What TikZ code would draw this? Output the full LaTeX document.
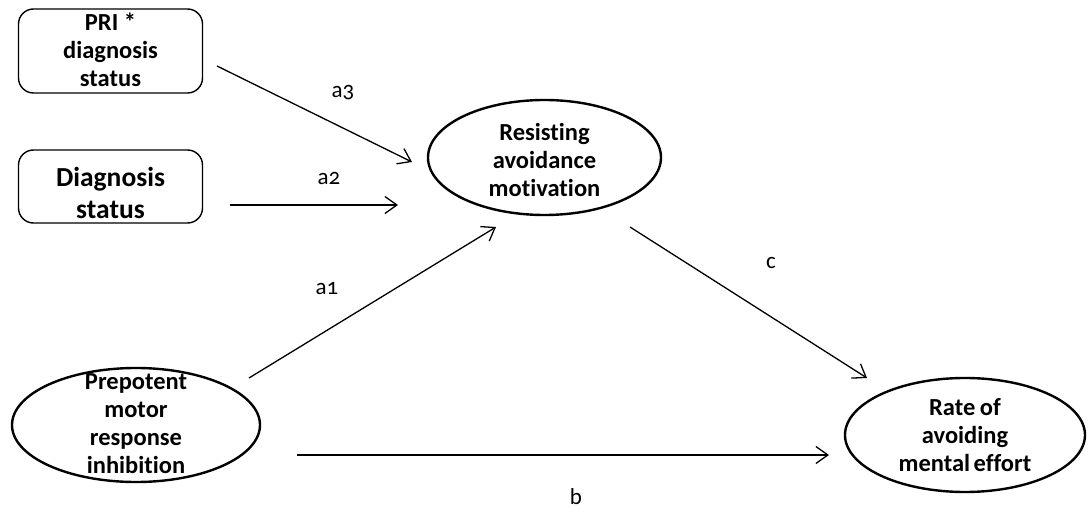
\documentclass[tikz,border=0pt]{standalone}
\usepackage{fontspec}
\setmainfont[Ligatures={NoCommon}]{Carlito}
\newfontfamily\lblfont[Numbers=OldStyle]{Carlito}
\usetikzlibrary{shapes.geometric,arrows.meta}
\begin{document}
\begin{tikzpicture}[x=1pt,y=-1pt,
  boxnode/.style={draw,line width=1.4pt,rounded corners=15pt,minimum width=184pt,inner sep=0pt},
  ellnode/.style={draw,ellipse,line width=2.4pt,inner sep=0pt},
  txt/.style={align=center,font=\fontsize{24.5}{28}\selectfont\bfseries,inner sep=0pt},
  arr/.style={line width=1.3pt,-{Straight Barb[length=12pt,width=17pt,line width=1.3pt]}},
  lbl/.style={font=\lblfont\fontsize{23}{26}\selectfont,inner sep=0pt}]
\useasboundingbox (0,0) rectangle (1088,513);
\node[boxnode,minimum height=84pt] (pri) at (110.5,51) {};
\node[txt] (pritxt) at (110.5,50) {PRI *\\diagnosis\\status};
\node[boxnode,minimum height=73pt] (dia) at (110.5,186.5) {};
\node[txt,font=\fontsize{27.5}{32}\selectfont\bfseries] (diatxt) at (110.5,193) {Diagnosis\\status};
\node[ellnode,minimum width=233pt,minimum height=115pt] (res) at (544.5,157.5) {};
\node[txt] (restxt) at (544.5,160) {Resisting\\avoidance\\motivation};
\node[ellnode,minimum width=248pt,minimum height=114pt] (pmr) at (136,425) {};
\node[txt] (pmrtxt) at (136,424) {Prepotent\\motor\\response\\inhibition};
\node[ellnode,minimum width=240pt,minimum height=114pt] (rate) at (965,435) {};
\node[txt] (ratetxt) at (965,435) {Rate\kern-1pt\ of\\avoiding\\mental\kern-2pt\ effort};
\coordinate (a3s) at (217,66);
\coordinate (a3e) at (412,162);
\coordinate (a2s) at (230,205);
\coordinate (a2e) at (398,205);
\coordinate (a1s) at (249,378);
\coordinate (a1e) at (496,227);
\coordinate (cs) at (630,227);
\coordinate (ce) at (867,378);
\coordinate (bs) at (297,455);
\coordinate (be) at (829,455);
\draw[arr] (a3s) -- (a3e);
\draw[arr] (a2s) -- (a2e);
\draw[arr] (a1s) -- (a1e);
\draw[arr] (cs) -- (ce);
\draw[arr] (bs) -- (be);
\node[lbl] (la3) at (343,93) {a3};
\node[lbl] (la2) at (329,178) {a2};
\node[lbl] (la1) at (327,289) {a1};
\node[lbl] (lc) at (771,263) {c};
\node[lbl] (lb) at (576,497) {b};
\end{tikzpicture}
\end{document}
